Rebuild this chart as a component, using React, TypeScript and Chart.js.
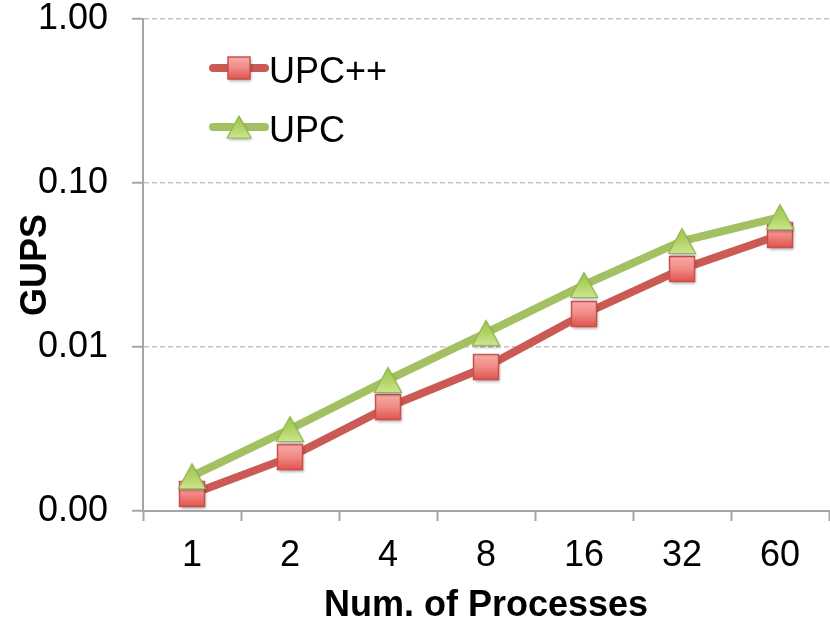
import React, { useEffect, useRef } from 'react';
import { Chart, registerables } from 'chart.js';

Chart.register(...registerables);

const categories = ['1', '2', '4', '8', '16', '32', '60'];
const upcppValues = [0.00127, 0.00213, 0.0043, 0.00755, 0.0159, 0.0299, 0.0482];
const upcValues = [0.00163, 0.00316, 0.0063, 0.0122, 0.0239, 0.0443, 0.062];
const yTickValues = [0.001, 0.01, 0.1, 1];
const seriesNames = ['UPC++', 'UPC'];
const xTitle = 'Num. of Processes';
const yTitle = 'GUPS';

const FONT = '"Liberation Sans", Arial, sans-serif';
const RED_LINE = '#CB5A55';
const GREEN_LINE = '#A3C162';
const AXIS = '#A6A6A6';

function makeSquare(s: number): HTMLCanvasElement {
  const c = document.createElement('canvas');
  c.width = 34; c.height = 34;
  const g = c.getContext('2d')!;
  const x0 = 17 - s / 2, y0 = 17 - s / 2;
  g.save();
  g.shadowColor = 'rgba(0,0,0,0.35)';
  g.shadowBlur = 3; g.shadowOffsetX = 1; g.shadowOffsetY = 2;
  const grad = g.createLinearGradient(0, y0, 0, y0 + s);
  grad.addColorStop(0, '#F8AAA6');
  grad.addColorStop(0.5, '#F08A85');
  grad.addColorStop(1, '#E1534D');
  g.fillStyle = grad;
  g.fillRect(x0, y0, s, s);
  g.restore();
  g.strokeStyle = '#C8504B';
  g.lineWidth = 1.5;
  g.strokeRect(x0, y0, s, s);
  return c;
}

function makeTriangle(w: number, h: number): HTMLCanvasElement {
  const c = document.createElement('canvas');
  c.width = 34; c.height = 34;
  const g = c.getContext('2d')!;
  const top = 17 - h / 2, bot = 17 + h / 2;
  const path = () => {
    g.beginPath();
    g.moveTo(17, top);
    g.lineTo(17 + w / 2, bot);
    g.lineTo(17 - w / 2, bot);
    g.closePath();
  };
  g.save();
  g.shadowColor = 'rgba(0,0,0,0.3)';
  g.shadowBlur = 3; g.shadowOffsetX = 1; g.shadowOffsetY = 2;
  const grad = g.createLinearGradient(0, top, 0, bot);
  grad.addColorStop(0, '#9CC34A');
  grad.addColorStop(0.55, '#B3D466');
  grad.addColorStop(1, '#CDE592');
  g.fillStyle = grad;
  path();
  g.fill();
  g.restore();
  g.strokeStyle = '#93B653';
  g.lineWidth = 1.2;
  path();
  g.stroke();
  return c;
}

export default function App() {
  const ref = useRef<HTMLCanvasElement | null>(null);

  useEffect(() => {
    if (!ref.current) return;
    const square = makeSquare(25);
    const triangle = makeTriangle(27, 25);
    const legendMarkers = [makeSquare(22), makeTriangle(24, 22)];
    const lineColors = [RED_LINE, GREEN_LINE];

    const legendPlugin = {
      id: 'insideLegend',
      afterDraw(chart: any) {
        const { ctx, chartArea } = chart;
        seriesNames.forEach((name, i) => {
          const y = chartArea.top + 49 + i * 59;
          const x0 = chartArea.left + 70;
          const x1 = chartArea.left + 122;
          ctx.save();
          ctx.lineCap = 'round';
          ctx.lineWidth = 8;
          ctx.strokeStyle = lineColors[i];
          ctx.beginPath();
          ctx.moveTo(x0, y);
          ctx.lineTo(x1, y);
          ctx.stroke();
          const m = legendMarkers[i];
          ctx.drawImage(m, chartArea.left + 96 - m.width / 2, y - m.height / 2);
          ctx.font = `36px ${FONT}`;
          ctx.fillStyle = '#000';
          ctx.textBaseline = 'alphabetic';
          ctx.textAlign = 'left';
          ctx.fillText(name, chartArea.left + 126, y + 15);
          ctx.restore();
        });
      },
    };

    const chart = new Chart(ref.current, {
      type: 'line',
      data: {
        labels: categories,
        datasets: [
          {
            label: seriesNames[0],
            data: upcppValues,
            borderColor: RED_LINE,
            backgroundColor: RED_LINE,
            borderWidth: 8,
            pointStyle: square as any,
            pointRadius: 13,
            tension: 0,
            order: 2,
          },
          {
            label: seriesNames[1],
            data: upcValues,
            borderColor: GREEN_LINE,
            backgroundColor: GREEN_LINE,
            borderWidth: 8,
            pointStyle: triangle as any,
            pointRadius: 13,
            tension: 0,
            order: 1,
          },
        ],
      },
      options: {
        responsive: false,
        animation: false,
        layout: { autoPadding: false, padding: { top: 19, right: 1, left: 0, bottom: 0 } },
        plugins: {
          legend: { display: false },
          tooltip: { enabled: false },
        },
        scales: {
          x: {
            type: 'category',
            offset: true,
            grid: {
              offset: true,
              drawOnChartArea: false,
              drawTicks: true,
              tickLength: 10,
              tickColor: AXIS,
              tickWidth: 2,
              tickBorderDash: [],
            },
            border: { color: AXIS, width: 2 },
            ticks: {
              font: { family: FONT, size: 36 },
              color: '#000',
              padding: 13,
              maxRotation: 0,
              autoSkip: false,
            },
            title: {
              display: true,
              text: xTitle,
              color: '#000',
              font: { family: FONT, size: 36, weight: 'bold', lineHeight: 1 },
              padding: { top: 0, bottom: 3 },
            },
            afterFit: (s: any) => {
              s.height = 116;
              s.paddingLeft = 0;
              s.paddingRight = 0;
            },
          },
          y: {
            type: 'logarithmic',
            min: 0.001,
            max: 1,
            afterBuildTicks: (s: any) => {
              s.ticks = yTickValues.map((v) => ({ value: v, major: false }));
            },
            grid: {
              color: '#C4C4C4',
              lineWidth: 1.5,
              drawTicks: true,
              tickLength: 11,
              tickColor: AXIS,
              tickWidth: 2,
              tickBorderDash: [],
            },
            border: { color: AXIS, width: 2, dash: [5, 3] },
            ticks: {
              callback: (v: any) => Number(v).toFixed(2),
              font: { family: FONT, size: 36 },
              color: '#000',
              padding: 24,
              autoSkip: false,
            },
            title: {
              display: true,
              text: yTitle,
              color: '#000',
              font: { family: FONT, size: 36, weight: 'bold', lineHeight: 1 },
              padding: { top: 18, bottom: 0 },
            },
            afterFit: (s: any) => {
              s.width = 143;
              s.paddingTop = 0;
              s.paddingBottom = 0;
            },
          },
        },
      } as any,
      plugins: [legendPlugin],
    });
    return () => chart.destroy();
  }, []);

  return (
    <div style={{ position: 'fixed', left: 0, top: 0, width: 830, height: 627, background: '#fff' }}>
      <canvas ref={ref} width={830} height={627} style={{ width: 830, height: 627, display: 'block' }} />
    </div>
  );
}
